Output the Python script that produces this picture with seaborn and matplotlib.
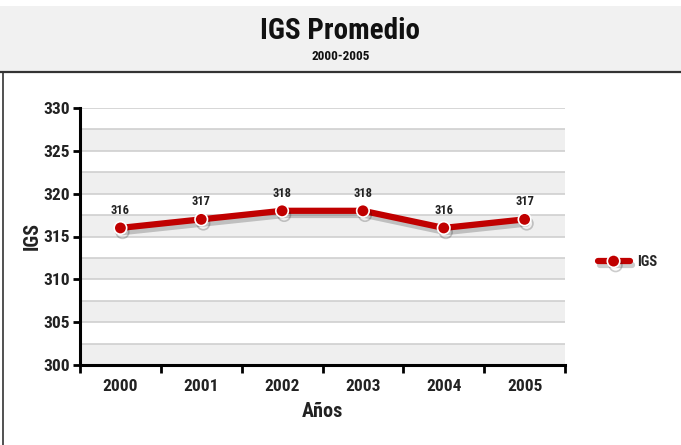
import matplotlib
matplotlib.use("Agg")
import matplotlib.pyplot as plt
import matplotlib.patheffects as pe
from matplotlib.patches import Rectangle
from matplotlib.lines import Line2D
import seaborn as sns
import pandas as pd
import numpy as np

years = ["2000", "2001", "2002", "2003", "2004", "2005"]
igs = [316, 317, 318, 318, 316, 317]
yticks = [300, 305, 310, 315, 320, 325, 330]
title = "IGS Promedio"
subtitle = "2000-2005"

sns.set_theme(style="white")
plt.rcParams['font.family'] = ['Roboto Condensed', 'Liberation Sans', 'DejaVu Sans']
plt.rcParams['font.weight'] = 'bold'

df = pd.DataFrame({"Año": years, "IGS": igs})

fig = plt.figure(figsize=(6.81, 4.45), dpi=100)
W, H = 681, 445

# header band
fig.patches.append(Rectangle((0, (H - 72) / H), 1, 66 / H, transform=fig.transFigure,
                             facecolor="#f1f1f1", edgecolor="none", zorder=0))
fig.lines.append(Line2D([0, 1], [(H - 72) / H] * 2, transform=fig.transFigure, color="#333333", lw=1.6))
fig.lines.append(Line2D([3 / W, 3 / W], [0, (H - 72) / H], transform=fig.transFigure, color="#333333", lw=1.2))
fig.text(0.5, (H - 31) / H, title, ha="center", va="center", fontsize=21, fontweight="bold", color="#111111")
fig.text(0.5, (H - 56) / H, subtitle, ha="center", va="center", fontsize=9.5, fontweight="bold", color="#111111")

ax = fig.add_axes([80 / W, (H - 365) / H, (565 - 80) / W, (365 - 108) / H])

for b in np.arange(300, 330, 5):
    ax.axhspan(b, b + 2.5, color="#efefef", zorder=0, lw=0)
for g in np.arange(302.5, 330.1, 2.5):
    ax.axhline(g, color="#cfcfcf", lw=1.2, zorder=1)

sns.lineplot(data=df, x="Año", y="IGS", ax=ax, color="#c00000", lw=4.5, marker="o",
             markersize=9, markerfacecolor="#c00000", markeredgecolor="white", markeredgewidth=1.2,
             label="IGS", zorder=3, sort=False,
             path_effects=[pe.SimpleLineShadow(offset=(1.5, -3), alpha=0.2, shadow_color="black"), pe.Normal()])

for i, v in enumerate(igs):
    ax.annotate(str(v), (i, v), xytext=(0, 8), textcoords="offset points", ha="center", va="bottom",
                fontsize=9, fontweight="bold", color="#222222")

ax.set_xlim(-0.5, 5.5)
ax.set_ylim(300, 330)
ax.set_yticks(yticks)
ax.set_xticks(range(len(years)))
ax.set_xticklabels(years)
ax.set_xticks(np.arange(-0.5, 6, 1), minor=True)
ax.tick_params(axis="x", which="major", length=0, pad=10, labelsize=12.5, labelcolor="#222222")
ax.tick_params(axis="x", which="minor", length=6, width=2, direction="out", color="black", bottom=True)
ax.tick_params(axis="y", which="major", length=5, width=2, direction="out", color="black", left=True,
               labelsize=12.5, labelcolor="#222222", pad=2)
for lab in ax.get_xticklabels() + ax.get_yticklabels():
    lab.set_fontweight("bold")

for s in ["top", "right"]:
    ax.spines[s].set_visible(False)
for s in ["left", "bottom"]:
    ax.spines[s].set_color("black")
    ax.spines[s].set_linewidth(2.2)

ax.set_xlabel("Años", fontsize=14.5, fontweight="bold", color="#222222", labelpad=6)
ax.set_ylabel("IGS", fontsize=14.5, fontweight="bold", color="#222222", labelpad=1.5)

leg = ax.legend(loc="center left", bbox_to_anchor=(1.04, 0.4), frameon=False, fontsize=10.5,
                handlelength=2.2, handletextpad=0.5)
for t in leg.get_texts():
    t.set_fontweight("bold")

fig.savefig("out.png", dpi=100, facecolor="white")
